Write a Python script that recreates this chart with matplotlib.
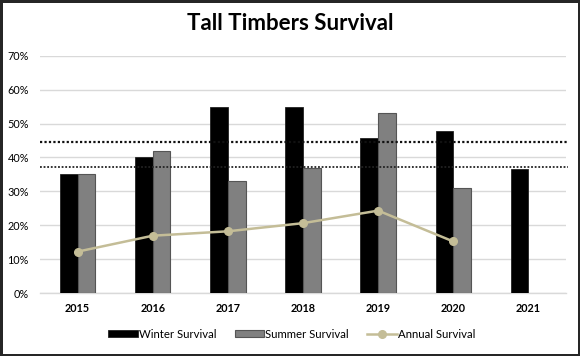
import numpy as np
import matplotlib.pyplot as plt

plt.rcParams["font.family"] = ["Lato", "DejaVu Sans"]

# data
years = ["2015", "2016", "2017", "2018", "2019", "2020", "2021"]
winter = [35.0, 40.0, 55.0, 55.0, 45.7, 47.8, 36.5]
summer = [35.0, 42.0, 33.0, 37.0, 53.0, 31.0, np.nan]
annual = [12.2, 16.9, 18.2, 20.6, 24.3, 15.2, np.nan]
ref_lines = [44.6, 37.3]

x = np.arange(len(years))
w = 0.236

fig = plt.figure(figsize=(5.8, 3.56), dpi=100)
fig.patch.set_edgecolor("#262626")
fig.patch.set_linewidth(2.5)
ax = fig.add_axes([40 / 580, 63 / 356, 526 / 580, 237.3 / 356])

b1 = ax.bar(x - w / 2, winter, w, color="black", edgecolor="#222222", linewidth=0.6,
            label="Winter Survival", zorder=3)
b2 = ax.bar(x + w / 2, summer, w, color="#808080", edgecolor="#555555", linewidth=0.8,
            label="Summer Survival", zorder=3)
ln, = ax.plot(x, annual, color="#C4BD97", lw=1.8, marker="o", ms=5.5,
              label="Annual Survival", zorder=5)

ax.axhline(ref_lines[0], xmin=0, xmax=1.004, color="#111111", ls=(0, (1, 1)),
           lw=1.6, clip_on=False, zorder=4)
ax.axhline(ref_lines[1], xmin=0, xmax=1.004, color="#222222", ls=(0, (1, 1)),
           lw=1.3, clip_on=False, zorder=4)

ax.set_xlim(-0.5, len(years) - 0.5)
ax.set_ylim(0, 70)
ax.set_yticks(np.arange(0, 71, 10))
ax.set_yticklabels([f"{v}%" for v in range(0, 71, 10)], fontsize=7.8)
ax.set_xticks(x)
ax.set_xticklabels(years, fontsize=7.8, fontweight="bold")
ax.tick_params(length=0, pad=7)
ax.tick_params(axis="y", pad=8)
ax.grid(axis="y", color="#D9D9D9", lw=1.0, zorder=0)
for s in ["top", "right", "left"]:
    ax.spines[s].set_visible(False)
ax.spines["bottom"].set_color("#D9D9D9")
ax.spines["bottom"].set_linewidth(1.0)

fig.text(0.5, 1 - 24 / 356, "Tall Timbers Survival", ha="center", va="center",
         fontsize=16, fontweight="bold")

fig.legend([b1, b2, ln], ["Winter Survival", "Summer Survival", "Annual Survival"],
           loc="center", bbox_to_anchor=(0.503, 1 - 334 / 356), ncol=3,
           frameon=False, fontsize=8.2, handlelength=2.6, handleheight=0.6,
           handletextpad=0.1, columnspacing=1.6)

fig.savefig("out.png", dpi=100)
